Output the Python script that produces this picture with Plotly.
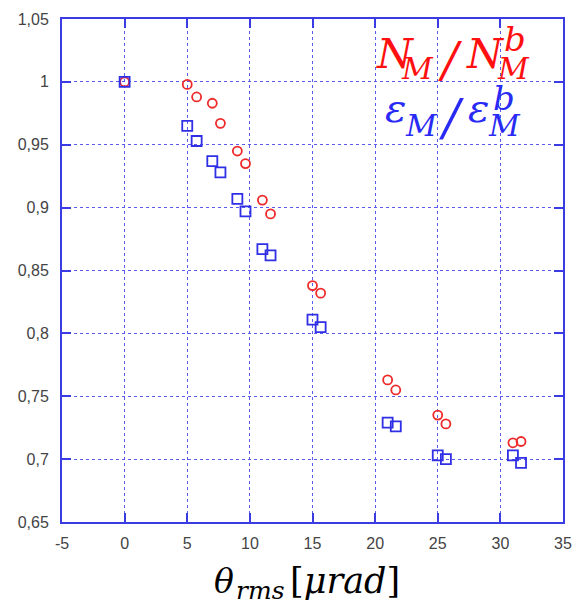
import plotly.graph_objects as go

# Data
theta_N = [0, 5, 5.75, 7, 7.65, 9, 9.65, 11, 11.65, 15, 15.65, 21, 21.65, 25, 25.65, 31, 31.65]
ratio_N = [1.0, 0.998, 0.988, 0.983, 0.967, 0.945, 0.935, 0.906, 0.895, 0.838, 0.832,
           0.763, 0.755, 0.735, 0.728, 0.713, 0.714]
theta_E = [0, 5, 5.75, 7, 7.65, 9, 9.65, 11, 11.65, 15, 15.65, 21, 21.65, 25, 25.65, 31, 31.65]
ratio_E = [1.0, 0.965, 0.953, 0.937, 0.928, 0.907, 0.897, 0.867, 0.862, 0.811, 0.805,
           0.729, 0.726, 0.703, 0.700, 0.703, 0.697]

x_ticks = [-5, 0, 5, 10, 15, 20, 25, 30, 35]
y_ticks = [0.65, 0.7, 0.75, 0.8, 0.85, 0.9, 0.95, 1.0, 1.05]
y_ticklabels = ["0,65", "0,7", "0,75", "0,8", "0,85", "0,9", "0,95", "1", "1,05"]

RED = "#ee2a2a"
BLUE = "#2f2fe6"
TXT_RED = "#ff1010"
TXT_BLUE = "#2a2af5"
AXIS = "#3b3be3"
GRID = "#5a5aee"

W, H = 573, 603
L, R, T, B = 62, 10, 19, 81
PW, PH = W - L - R, H - T - B

def px(xp):
    return (xp - L) / PW

def py(yp):
    return (H - B - yp) / PH

fig = go.Figure()
fig.add_trace(go.Scatter(x=theta_N, y=ratio_N, mode="markers",
                         marker=dict(symbol="circle-open", size=9, color=RED,
                                     line=dict(width=1.8, color=RED)),
                         showlegend=False))
fig.add_trace(go.Scatter(x=theta_E, y=ratio_E, mode="markers",
                         marker=dict(symbol="square-open", size=10, color=BLUE,
                                     line=dict(width=1.8, color=BLUE)),
                         showlegend=False))

axis_common = dict(showline=True, linecolor=AXIS, linewidth=2, mirror="ticks",
                   ticks="inside", ticklen=9, tickcolor=AXIS, tickwidth=2,
                   showgrid=True, gridcolor=GRID, gridwidth=1, griddash="dot",
                   zeroline=False,
                   tickfont=dict(family="Liberation Sans, Arial, sans-serif", size=16, color="#444444"))

fig.update_xaxes(range=[-5, 35], tickvals=x_ticks, ticktext=[str(v) for v in x_ticks],
                 ticklabelstandoff=6, **axis_common)
fig.update_yaxes(range=[0.65, 1.05], tickvals=y_ticks, ticktext=y_ticklabels,
                 ticklabelstandoff=8, **axis_common)

serif = "DejaVu Serif, Liberation Serif, serif"

def piece(text, cx, cy, size, color, xanchor="center"):
    fig.add_annotation(xref="paper", yref="paper", x=px(cx), y=py(cy),
                       xanchor=xanchor, yanchor="middle", text=text, showarrow=False,
                       font=dict(family=serif, size=size, color=color))

# Red label  N_M / N_M^b
piece("<i>N</i>", 395, 54, 41, TXT_RED)
piece("<i>M</i>", 417, 68.5, 30, TXT_RED)
piece("<i>/</i>", 450, 60, 48, TXT_RED)
piece("<i>N</i>", 485, 54, 41, TXT_RED)
piece("<i>b</i>", 515, 38.5, 34, TXT_RED)
piece("<i>M</i>", 513, 68.5, 30, TXT_RED)

# Blue label  eps_M / eps_M^b
piece("<i>ε</i>", 395, 108, 40, TXT_BLUE)
piece("<i>M</i>", 421, 125.5, 30, TXT_BLUE)
piece("<i>/</i>", 451, 117.5, 50, TXT_BLUE)
piece("<i>ε</i>", 478.5, 108, 40, TXT_BLUE)
piece("<i>b</i>", 503.5, 98.5, 34, TXT_BLUE)
piece("<i>M</i>", 504.5, 125.5, 30, TXT_BLUE)

# X axis title  theta_rms [mu rad]
piece("<i>θ</i>", 212, 581, 33, "#000000", xanchor="left")
piece("<i>rms</i>", 234, 590, 25, "#000000", xanchor="left")
piece("[<i>μrad</i>]", 288, 581, 35, "#000000", xanchor="left")

fig.update_layout(width=W, height=H,
                  margin=dict(l=L, r=R, t=T, b=B, autoexpand=False),
                  plot_bgcolor="white", paper_bgcolor="white")

fig.write_html("out.html", config={"displayModeBar": False},
               post_script="document.body.style.margin='0';document.body.style.overflow='hidden';")
